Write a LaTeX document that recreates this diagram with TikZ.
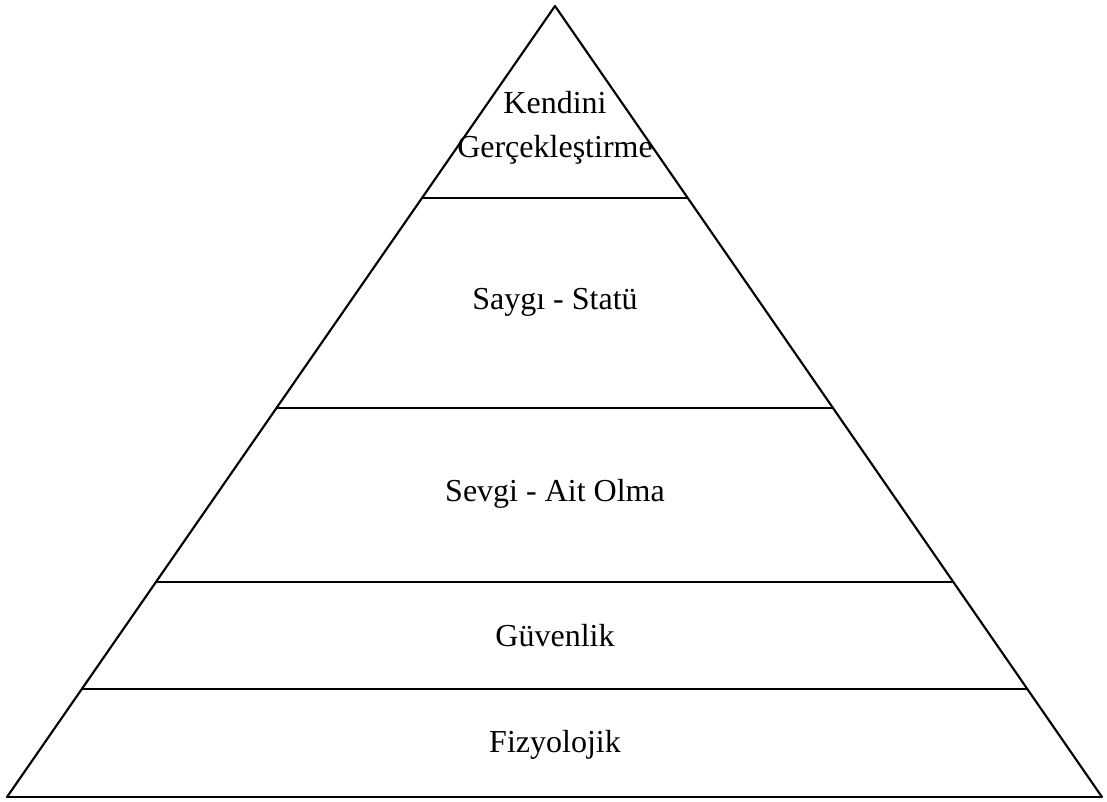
\documentclass[tikz,border=0pt]{standalone}
\usepackage{fontspec}
\setmainfont{Liberation Serif}
\usetikzlibrary{calc}
\begin{document}
\begin{tikzpicture}[
    x=0.75pt, y=-0.75pt,
    side/.style={line width=1.6pt, line cap=round, line join=round},
    layer/.style={line width=1.6pt},
    every node/.style={font=\fontsize{24}{33}\selectfont, align=center, inner sep=0pt}]
  \useasboundingbox (0,0) rectangle (1107,801);

  \coordinate (apex) at (555,6);
  \coordinate (bl) at (7,797);
  \coordinate (br) at (1102,797);

  % outline of the pyramid
  \draw[side] (bl) -- (apex) -- (br);
  \draw[line width=0.9pt] (bl) -- (br);

  % dividers between the levels
  \foreach \f/\n in {0.2427/d1, 0.5082/d2, 0.7282/d3, 0.8635/d4} {
    \coordinate (\n l) at ($(apex)!\f!(bl)$);
    \coordinate (\n r) at ($(apex)!\f!(br)$);
    \draw[layer] (\n l) -- (\n r);
  }

  \node (self)   at (555,128) {Kendini\\Gerçekleştirme};
  \node (esteem) at (555,302) {Saygı - Statü};
  \node (love)   at (555,494) {Sevgi - Ait Olma};
  \node (safety) at (555,636) {Güvenlik};
  \node (body)   at (555,745) {Fizyolojik};
\end{tikzpicture}
\end{document}
